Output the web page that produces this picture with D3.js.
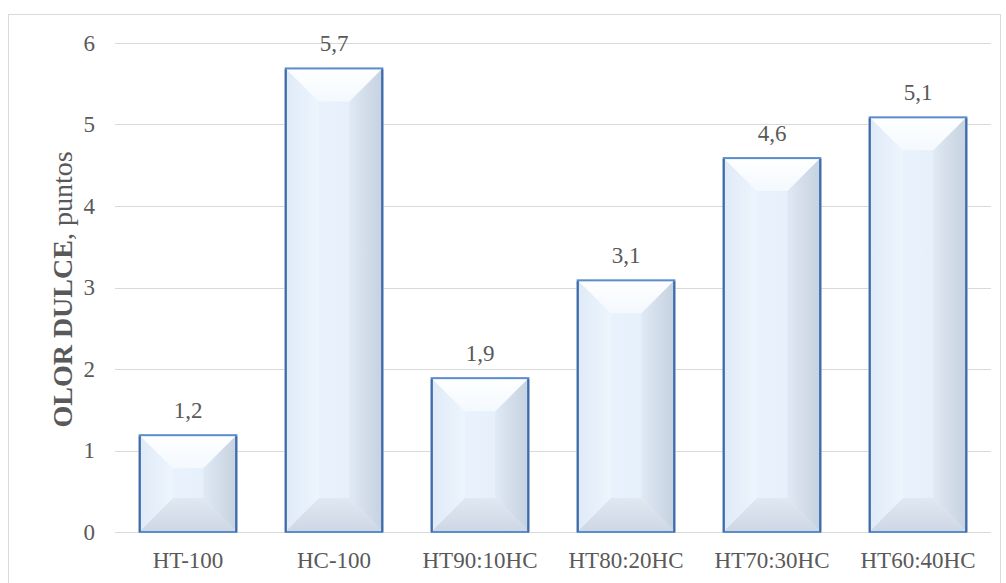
<!DOCTYPE html>
<html>
<head>
<meta charset="utf-8">
<script src="https://cdn.jsdelivr.net/npm/d3@7"></script>
<style>
  body { margin: 0; background: #fff; }
  svg { display: block; }
</style>
</head>
<body>
<svg id="chart" width="1006" height="583"></svg>
<script>
// Sweet-odour scores per sample
const categories = ["HT-100", "HC-100", "HT90:10HC", "HT80:20HC", "HT70:30HC", "HT60:40HC"];
const values = [1.2, 5.7, 1.9, 3.1, 4.6, 5.1];
const valueLabels = ["1,2", "5,7", "1,9", "3,1", "4,6", "5,1"];
const yTicks = [0, 1, 2, 3, 4, 5, 6];

const FONT = "'Liberation Serif', 'Times New Roman', serif";
const TXT = "#595959";

const svg = d3.select("#chart");
const W = 1006, H = 583;
const m = { left: 115, right: 1006 - 991, top: 43, bottom: 583 - 532 };

// Chart frame
svg.append("rect")
  .attr("x", 8.5).attr("y", 14.5)
  .attr("width", 992).attr("height", 580)
  .attr("fill", "#fff").attr("stroke", "#d9d9d9").attr("stroke-width", 1);

const x = d3.scaleBand().domain(categories).range([m.left, W - m.right]).paddingInner(0.325).paddingOuter(0.1625);
const y = d3.scaleLinear().domain([0, 6]).range([H - m.bottom, m.top]);

// Gradients for bevel faces
const defs = svg.append("defs");
function grad(id, x2, y2, stops) {
  const g = defs.append("linearGradient").attr("id", id)
    .attr("x1", 0).attr("y1", 0).attr("x2", x2).attr("y2", y2);
  stops.forEach(([o, c]) => g.append("stop").attr("offset", o).attr("stop-color", c));
}
grad("gTop", 0, 1, [[0, "#ffffff"], [1, "#f4f9fe"]]);
grad("gLeft", 1, 0, [[0, "#dfeaf7"], [1, "#edf5fd"]]);
grad("gRight", 1, 0, [[0, "#e0e9f4"], [1, "#c5d1df"]]);
grad("gBottom", 0, 1, [[0, "#e0e8f2"], [1, "#cdd7e3"]]);
grad("gFace", 1, 0, [[0, "#ecf5fe"], [1, "#e3edf9"]]);

// Horizontal gridlines
svg.append("g").selectAll("line").data(yTicks).join("line")
  .attr("x1", m.left).attr("x2", W - m.right)
  .attr("y1", d => Math.round(y(d)) + 0.5).attr("y2", d => Math.round(y(d)) + 0.5)
  .attr("stroke", "#d9d9d9").attr("stroke-width", 1);

// Y axis tick labels
const yAxis = d3.axisLeft(y).tickValues(yTicks).tickFormat(d3.format("d")).tickSize(0).tickPadding(0);
const yg = svg.append("g").attr("transform", `translate(${m.left - 20},0)`).call(yAxis)
  .attr("font-family", FONT).attr("font-size", 23);
yg.select(".domain").remove();
yg.selectAll("text").attr("fill", TXT);

// X axis category labels
const xAxis = d3.axisBottom(x).tickSize(0).tickPadding(0);
const xg = svg.append("g").attr("transform", `translate(0,${H - m.bottom + 20})`).call(xAxis)
  .attr("font-family", FONT).attr("font-size", 23);
xg.select(".domain").remove();
xg.selectAll("text").attr("fill", TXT).attr("dy", null).attr("y", 16);

// Bevelled bars
const bev = 34;
const bars = svg.append("g").selectAll("g").data(categories.map((c, i) => ({ c, v: values[i], l: valueLabels[i] })))
  .join("g");

bars.each(function(d) {
  const g = d3.select(this);
  const x0 = x(d.c), x1 = x(d.c) + x.bandwidth();
  const y0 = y(d.v), y1 = y(0);
  const h = y1 - y0, w = x1 - x0;
  const b = Math.min(bev, h / 2, w / 2);
  const pts = a => a.map(p => p.join(",")).join(" ");
  g.append("rect").attr("x", x0).attr("y", y0).attr("width", w).attr("height", h).attr("fill", "url(#gFace)");
  g.append("polygon").attr("points", pts([[x0, y1], [x1, y1], [x1 - b, y1 - b], [x0 + b, y1 - b]])).attr("fill", "url(#gBottom)");
  g.append("polygon").attr("points", pts([[x0, y0], [x0 + b, y0 + b], [x0 + b, y1 - b], [x0, y1]])).attr("fill", "url(#gLeft)");
  g.append("polygon").attr("points", pts([[x1, y0], [x1, y1], [x1 - b, y1 - b], [x1 - b, y0 + b]])).attr("fill", "url(#gRight)");
  g.append("polygon").attr("points", pts([[x0, y0], [x1, y0], [x1 - b, y0 + b], [x0 + b, y0 + b]])).attr("fill", "url(#gTop)");
  g.append("rect").attr("x", x0 + 1).attr("y", y0 + 1).attr("width", w - 2).attr("height", h - 1)
    .attr("fill", "none").attr("stroke", "#5b8ccc").attr("stroke-width", 2);
  g.append("line").attr("x1", x0 + 1).attr("x2", x0 + 1).attr("y1", y0 + 2).attr("y2", y1)
    .attr("stroke", "#3f6ca8").attr("stroke-width", 2);
  g.append("line").attr("x1", x1 - 1).attr("x2", x1 - 1).attr("y1", y0 + 2).attr("y2", y1)
    .attr("stroke", "#3f6ca8").attr("stroke-width", 2);
  g.append("text").attr("x", (x0 + x1) / 2).attr("y", y0 - 16)
    .attr("text-anchor", "middle").attr("font-family", FONT).attr("font-size", 23)
    .attr("fill", TXT).text(d.l);
});

// Y axis title
const title = svg.append("text")
  .attr("transform", `translate(72,${(m.top + H - m.bottom) / 2 + 2}) rotate(-90)`)
  .attr("text-anchor", "middle").attr("font-family", FONT).attr("font-size", 28).attr("fill", TXT);
title.append("tspan").attr("font-weight", "bold").text("OLOR DULCE");
title.append("tspan").text(", puntos");
</script>
</body>
</html>
